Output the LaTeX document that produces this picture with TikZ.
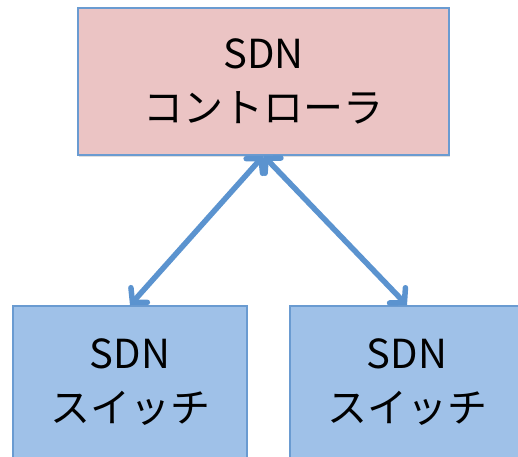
\documentclass[tikz,border=0pt]{standalone}
\usepackage{fontspec}
\setmainfont{Noto Sans CJK JP}
\usepackage{tikz}
\usetikzlibrary{arrows.meta,shadows}

\definecolor{ctrlfill}{HTML}{EBC4C4}
\definecolor{swfill}{HTML}{9FC1E8}
\definecolor{boxline}{HTML}{6A9BD1}
\definecolor{linkblue}{HTML}{5B93CF}

\begin{document}
\begin{tikzpicture}[x=1pt,y=-1pt,
	box/.style={draw=boxline,line width=1.5pt,align=center,inner sep=0pt,
		font=\fontsize{40}{54}\selectfont,
		drop shadow={opacity=0.25,shadow xshift=1pt,shadow yshift=-2pt}},
	link/.style={draw=linkblue,line width=5.5pt,line cap=round,
		{Straight Barb[length=10pt,width=22pt,line cap=round]}-{Straight Barb[length=10pt,width=22pt,line cap=round]}}]

\useasboundingbox (0,0) rectangle (518,456);

% controller
\node[box,fill=ctrlfill,minimum width=371pt,minimum height=147pt] (ctrl) at (263.5,81.5) {SDN\\コントローラ};

% switches
\node[box,fill=swfill,minimum width=234pt,minimum height=152pt] (swL) at (130,382) {SDN\\スイッチ};
\node[box,fill=swfill,minimum width=234pt,minimum height=152pt] (swR) at (407,382) {SDN\\スイッチ};

% links
\draw[link] (ctrl.south) -- (swL.north);
\draw[link] (ctrl.south) -- (swR.north);

\end{tikzpicture}
\end{document}
